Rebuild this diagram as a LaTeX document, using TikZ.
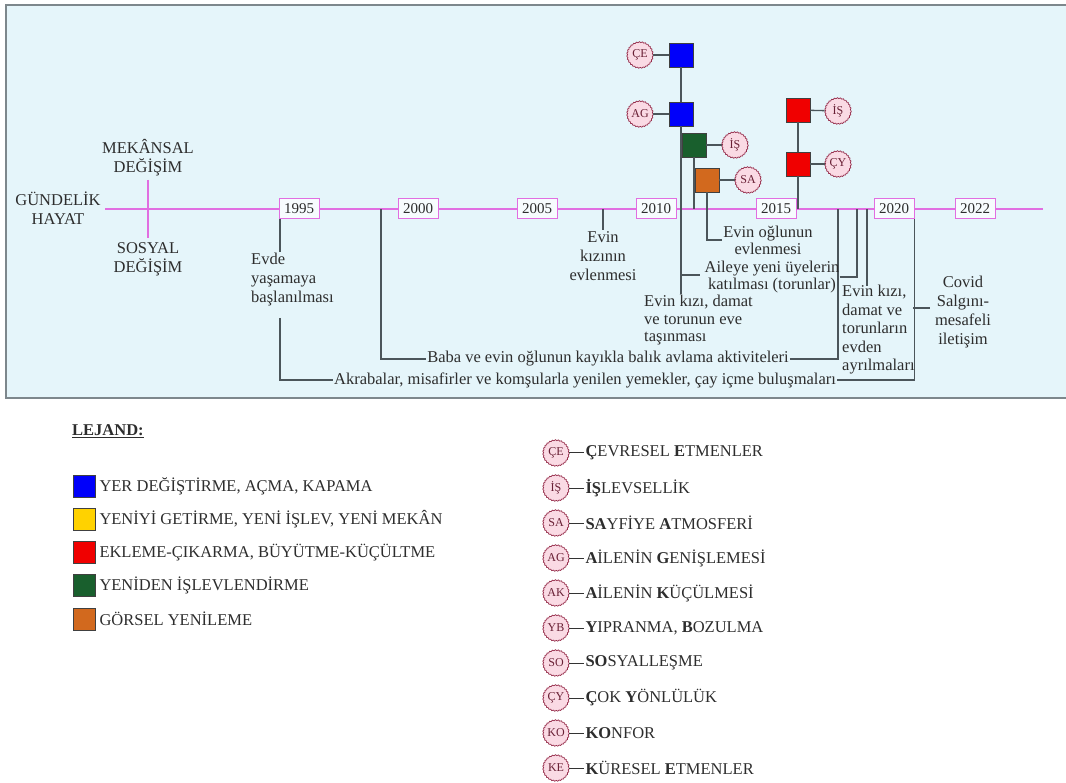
\documentclass[tikz,border=0pt]{standalone}
\usepackage{fontspec}
\setmainfont{Liberation Serif}
\usetikzlibrary{positioning,decorations.pathmorphing}

\definecolor{panelbg}{RGB}{229,245,250}
\definecolor{panelrim}{RGB}{125,135,140}
\definecolor{axis}{RGB}{225,110,225}
\definecolor{wirec}{RGB}{75,85,90}
\definecolor{ink}{RGB}{45,45,45}
\definecolor{cblue}{RGB}{0,0,250}
\definecolor{cyellow}{RGB}{255,210,0}
\definecolor{cred}{RGB}{240,0,0}
\definecolor{cgreen}{RGB}{25,95,45}
\definecolor{corange}{RGB}{210,105,30}
\definecolor{sealfill}{RGB}{250,218,228}
\definecolor{sealrim}{RGB}{150,45,75}

\tikzset{
  txt/.style={font=\fontsize{16.5}{19}\selectfont, text=ink, inner sep=1pt, align=center},
  tight/.style={font=\fontsize{16.5}{17}\selectfont},
  year/.style={draw=axis, line width=1pt, fill=white!70!panelbg, minimum width=40pt,
    minimum height=20pt, inner sep=0pt, font=\fontsize{15}{16}\selectfont, text=ink},
  sq/.style={draw=black!75, line width=0.6pt, minimum size=24pt, inner sep=0pt, fill=#1},
  key/.style={sq=#1, minimum size=22pt},
  seal/.style={circle, draw=sealrim, fill=sealfill, line width=0.7pt, minimum size=26pt,
    inner sep=0pt, font=\fontsize{12}{12}\selectfont, text=sealrim!70!black,
    decorate, decoration={bumps, segment length=6pt, amplitude=0.7pt}},
  legtxt/.style={font=\fontsize{16.5}{18}\selectfont, text=ink, inner sep=1pt},
  wire/.style={draw=wirec, line width=1.3pt},
  axisline/.style={draw=axis, line width=1.6pt},
}

\begin{document}
\begin{tikzpicture}[x=1pt,y=-1pt]
  \useasboundingbox (0,0) rectangle (1066,783);
  % panel
  \fill[panelbg] (6,5) rectangle (1074,398);
  \draw[panelrim, line width=2pt] (6,5) rectangle (1074,398);

  % time axis and the cross
  \coordinate (tl-start) at (105,209);
  \coordinate (tl-end) at (1043,209);
  \draw[axisline] (tl-start) -- (tl-end);
  \coordinate (cross-top) at (148,180);
  \coordinate (cross-bot) at (148,238);
  \draw[axisline] (cross-top) -- (cross-bot);
  \node[txt] (gundelik) at (58,208) {GÜNDELİK\\HAYAT};
  \node[txt] (mekansal) at (148,158) {MEKÂNSAL\\DEĞİŞİM};
  \node[txt] (sosyal) at (148,259) {SOSYAL\\DEĞİŞİM};

  \foreach \yr/\xx in {1995/299,2000/418,2005/537,2010/656,2015/776,2020/894,2022/975}
    \node[year] (y\yr) at (\xx,209) {\yr};

  % changes above the axis
  \node[sq=cblue] (blue-a) at (681,55) {};
  \node[sq=cblue] (blue-b) at (681,114) {};
  \node[sq=cgreen] (green-a) at (694,145) {};
  \node[sq=corange] (orange-a) at (707,180) {};
  \node[sq=cred] (red-a) at (798,110) {};
  \node[sq=cred] (red-b) at (798,164) {};
  \node[seal] (s-ce) at (640,55) {ÇE};
  \node[seal] (s-ag) at (640,114) {AG};
  \node[seal] (s-is1) at (735,145) {İŞ};
  \node[seal] (s-sa) at (748,180) {SA};
  \node[seal] (s-is2) at (838,111) {İŞ};
  \node[seal] (s-cy) at (838,164) {ÇY};
  \draw[wire] (s-ce) -- (blue-a);
  \draw[wire] (s-ag) -- (blue-b);
  \draw[wire] (s-is1) -- (green-a);
  \draw[wire] (s-sa) -- (orange-a);
  \draw[wire] (s-is2) -- (red-a);
  \draw[wire] (s-cy) -- (red-b);
  \draw[wire] (blue-a) -- (blue-b);
  \draw[wire] (red-a) -- (red-b);
  \coordinate (green-foot) at (694,209);
  \coordinate (red-foot) at (798,209);
  \draw[wire] (green-a) -- (green-foot);
  \draw[wire] (red-b) -- (red-foot);

  % events below the axis
  \node[txt, align=left, anchor=north west] (evde) at (250,252) {Evde\\yaşamaya\\başlanılması};
  \coordinate (evde-top) at (280,219);
  \coordinate (evde-top2) at (280,252);
  \draw[wire] (evde-top) -- (evde-top2);
  \node[txt] (akraba) at (585,380) {Akrabalar, misafirler ve komşularla yenilen yemekler, çay içme buluşmaları};
  \coordinate (evde-bot) at (280,318);
  \draw[wire] (evde-bot) |- (akraba.west);
  \draw[wire] (akraba.east) -| (y2020.south east);

  \node[txt] (baba) at (608,359) {Baba ve evin oğlunun kayıkla balık avlama aktiviteleri};
  \coordinate (baba-foot) at (381,209);
  \coordinate (baba-end) at (838,209);
  \draw[wire] (baba-foot) |- (baba.west);
  \draw[wire] (baba.east) -| (baba-end);

  \coordinate (kiz-foot) at (603,209);
  \node[txt, below=21pt of kiz-foot] (kizev) {Evin\\kızının\\evlenmesi};
  \draw[wire] (kiz-foot) -- (kizev);

  \node[txt, align=left, anchor=north west, inner sep=0pt, font=\fontsize{16.5}{17.5}\selectfont]
    (tasinma) at (644,295) {Evin kızı, damat\\ve torunun eve\\taşınması};
  \coordinate (tasinma-end) at (681,294);
  \draw[wire] (blue-b) -- (tasinma-end);

  \node[txt, tight, inner sep=0pt] (aileye) at (772,277) {Aileye yeni üyelerin\\katılması (torunlar)};
  \coordinate (aileye-knee) at (681,275);
  \coordinate (aileye-foot) at (857,209);
  \draw[wire] (aileye-knee) -- ([xshift=-4pt]aileye-knee -| aileye.west);
  \draw[wire] (aileye.east) -| (aileye-foot);

  \node[txt, tight] (ogul) at (768,240) {Evin oğlunun\\evlenmesi};
  \draw[wire] (orange-a) |- (ogul.west);

  \node[txt, align=left, anchor=north west, font=\fontsize{16.5}{18.5}\selectfont]
    (ayrilma) at (841,284) {Evin kızı,\\damat ve\\torunların\\evden\\ayrılmaları};
  \coordinate (ayr-foot) at (867,209);
  \coordinate (ayr-end) at (867,286);
  \draw[wire] (ayr-foot) -- (ayr-end);

  \node[txt] (covid) at (963,312) {Covid\\Salgını-\\mesafeli\\iletişim};
  \coordinate (covid-knee) at (913,308);
  \draw[wire] (covid-knee) -- ([xshift=-4pt]covid-knee -| covid.west);

  % legend
  \node[font=\bfseries\fontsize{16.5}{18}\selectfont, text=ink, anchor=west, inner sep=0pt]
    (lejand) at (72,431) {\underline{LEJAND:}};
  \foreach \col/\lab [count=\i from 0] in {cblue/{YER DEĞİŞTİRME, AÇMA, KAPAMA},
      cyellow/{YENİYİ GETİRME, YENİ İŞLEV, YENİ MEKÂN},
      cred/{EKLEME-ÇIKARMA, BÜYÜTME-KÜÇÜLTME},
      cgreen/{YENİDEN İŞLEVLENDİRME},
      corange/{GÖRSEL YENİLEME}} {
    \node[key=\col] (key\i) at (84,{486+33.2*\i}) {};
    \node[legtxt, right=3pt of key\i] (keytxt\i) {\lab};
  }
  \foreach \ab/\lab [count=\i from 0] in {ÇE/{\textbf{Ç}EVRESEL \textbf{E}TMENLER},
      İŞ/{\textbf{İŞ}LEVSELLİK},
      SA/{\textbf{SA}YFİYE \textbf{A}TMOSFERİ},
      AG/{\textbf{A}İLENİN \textbf{G}ENİŞLEMESİ},
      AK/{\textbf{A}İLENİN \textbf{K}ÜÇÜLMESİ},
      YB/{\textbf{Y}IPRANMA, \textbf{B}OZULMA},
      SO/{\textbf{SO}SYALLEŞME},
      ÇY/{\textbf{Ç}OK \textbf{Y}ÖNLÜLÜK},
      KO/{\textbf{KO}NFOR},
      KE/{\textbf{K}ÜRESEL \textbf{E}TMENLER}} {
    \node[seal] (leg-s\i) at (556,{453+35*\i}) {\ab};
    \node[legtxt, right=15pt of leg-s\i] (leg-t\i) {\lab};
    \draw[draw=black!80, line width=1pt] (leg-s\i) -- (leg-t\i);
  }
\end{tikzpicture}
\end{document}
